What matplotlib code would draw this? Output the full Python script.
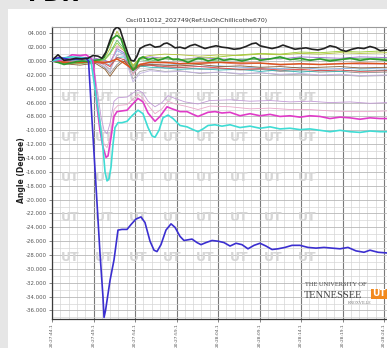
import matplotlib.pyplot as plt
from matplotlib.patches import Rectangle

W, H = 387, 348

# time axis in seconds after 20:27:44.1
x_ticks = [0, 5, 10, 15, 20, 25, 30, 35, 40]
x_tick_labels = ["20:27:44.1", "20:27:49.1", "20:27:54.1", "20:27:59.1", "20:28:04.1",
                 "20:28:09.1", "20:28:14.1", "20:28:19.1", "20:28:24.1"]
y_ticks = list(range(4, -37, -2))
y_tick_labels = [("%06.3f" % v) if v >= 0 else ("-%06.3f" % abs(v)) for v in y_ticks]

# blue unit (deepest swing)
blue_t = [0, 0.96, 2.17, 3.37, 4.10, 4.40, 4.82, 5.30, 5.78, 6.14, 6.27, 6.45, 7.0, 7.47, 7.95,
          8.43, 9.04, 9.52, 10.12, 10.72, 11.2, 11.81, 12.29, 12.65, 13.13, 13.73, 14.34, 14.82,
          15.42, 15.9, 16.39, 16.87, 17.47, 17.95, 18.55, 19.28, 20.0, 20.72, 21.45, 22.17, 22.89,
          23.61, 24.34, 25.06, 25.78, 26.51, 27.23, 28.07, 28.92, 29.88, 30.84, 31.81, 32.77,
          33.73, 34.7, 35.66, 36.63, 37.59, 38.31, 39.28, 40.36]
blue_v = [0.3, 0.5, 0.2, 0.3, 0.4, 0, -8.5, -18, -27.7, -34, -37, -36, -31.6, -28.7, -24.4,
          -24.3, -24.3, -23.6, -22.8, -22.5, -23.3, -26, -27.3, -27.5, -26.5, -24.4, -23.5, -24,
          -25.3, -25.9, -25.8, -25.7, -26.2, -26.5, -26.2, -25.9, -26.0, -26.2, -26.7, -26.3, -26.5,
          -27.1, -26.6, -26.3, -26.7, -27.2, -27.1, -26.9, -26.6, -26.6, -26.9, -27.0, -26.9,
          -27.0, -27.1, -26.9, -27.4, -27.6, -27.3, -27.6, -27.7]

magenta_t = [0, 0.96, 1.69, 2.41, 3.37, 4.10, 4.58, 4.94, 5.18, 5.42, 5.78, 6.14, 6.51, 6.75,
             7.11, 7.47, 7.83, 8.43, 9.04, 9.64, 10.36, 10.96, 11.57, 12.41, 13.01, 13.86, 14.46,
             15.42, 16.27, 16.99, 17.59, 18.19, 18.80, 19.64, 20.48, 21.45, 22.65, 23.86, 25.06,
             26.27, 27.47, 28.67, 29.88, 31.08, 32.29, 33.49, 34.70, 35.90, 37.11, 38.31, 39.52,
             40.36]
magenta_v = [0, 0.1, 0.4, 0.9, 0.8, 0.9, 0.5, 0, -3, -6.5, -10, -12.4, -13.9, -13.7, -11, -8,
             -7.3, -7.2, -7.1, -6.3, -5.4, -5.9, -7.5, -8.7, -8.0, -6.6, -6.9, -7.3, -7.3, -7.7,
             -8.0, -7.7, -7.4, -7.3, -7.5, -7.4, -7.9, -7.6, -7.9, -7.7, -8.0, -7.9, -8.1, -7.9,
             -8.0, -8.3, -8.1, -8.2, -8.4, -8.2, -8.3, -8.3]

cyan_t = [0, 0.96, 1.69, 2.41, 3.37, 4.10, 4.46, 4.70, 5.06, 5.42, 5.78, 6.14, 6.39, 6.63, 6.87,
          7.11, 7.35, 7.59, 7.95, 8.43, 9.04, 9.64, 10.36, 10.96, 11.57, 12.05, 12.41, 12.89,
          13.37, 13.98, 14.58, 15.42, 16.27, 16.99, 17.59, 18.19, 18.80, 19.64, 20.48, 21.45,
          22.65, 23.86, 25.06, 26.27, 27.47, 28.67, 29.88, 31.08, 32.29, 33.49, 34.70, 35.90,
          37.11, 38.31, 39.52, 40.36]
cyan_v = [0, 0.3, 0.5, 0.6, 0.5, 0.4, 0.3, 0, -3, -6, -8.8, -12.5, -16, -17.3, -17, -15.3, -12,
          -9.6, -8.9, -8.9, -8.7, -7.9, -7.1, -7.6, -9.6, -10.8, -11, -10, -8.2, -7.8, -8.3, -9.3,
          -9.5, -9.9, -10.2, -9.8, -9.3, -9.2, -9.4, -9.2, -9.6, -9.4, -9.7, -9.5, -9.8, -9.7,
          -9.9, -9.8, -10.0, -10.2, -10.0, -10.2, -10.3, -10.1, -10.2, -10.2]

# thin traces riding above the magenta one
upper_t = [0, 3.37, 4.94, 5.42, 5.9, 6.27, 6.63, 6.99, 7.47, 7.95, 9.04, 9.64, 10.36, 10.96,
           11.57, 12.41, 13.25, 13.98, 14.82, 16.02, 17.59, 19.04, 21.45, 23.86, 26.27, 28.67,
           31.08, 33.49, 35.9, 38.31, 40.36]
lavender_v = [0, 0.5, 0, -4, -8, -10, -10.5, -9, -5.8, -5.3, -5.2, -4.7, -4.2, -4.6, -5.8, -6.6,
              -6.0, -5.0, -5.4, -5.9, -6.2, -5.7, -5.6, -5.8, -5.7, -5.9, -5.8, -6.0, -5.9, -6.1,
              -6.0]
pink_v = [0, 0.6, 0, -5, -9.5, -12, -12.5, -11, -7, -6.4, -6.3, -5.6, -4.8, -5.4, -6.4, -7.6,
          -6.9, -5.8, -6.2, -6.5, -7.0, -6.5, -6.6, -6.9, -6.8, -7.0, -7.0, -7.2, -7.3, -7.3, -7.2]

black_t = [0, 0.36, 0.72, 1.08, 1.45, 2.17, 2.89, 3.61, 4.34, 4.94, 5.54, 6.02, 6.51, 6.99,
           7.47, 7.83, 8.19, 8.67, 9.16, 9.52, 9.88, 10.24, 10.6, 11.2, 11.81, 12.41, 13.01,
           13.49, 13.86, 14.34, 14.82, 15.42, 16.02, 16.63, 17.23, 17.83, 18.43, 19.04, 19.76,
           20.48, 21.2, 21.93, 22.65, 23.37, 24.1, 24.58, 25.06, 25.78, 26.51, 27.23, 27.83,
           28.55, 29.28, 29.88, 30.6, 31.33, 32.05, 32.77, 33.49, 34.22, 34.82, 35.42, 36.14,
           36.87, 37.59, 38.31, 38.92, 39.52, 40.36]
black_v = [0.1, 0.5, 0.9, 0.5, 0.1, 0.2, 0.4, 0.3, 0.4, 0.8, 0.7, 0.4, 1.3, 3.0, 4.5, 4.9, 4.6,
           2.8, 1.0, 0.1, 0.0, 0.7, 1.8, 2.2, 2.4, 2.0, 2.1, 2.5, 2.6, 2.3, 1.9, 2.0, 1.8, 2.2,
           2.4, 2.1, 1.8, 2.0, 2.2, 2.0, 1.9, 1.7, 1.8, 2.1, 2.5, 2.6, 2.2, 2.0, 1.8, 2.0, 2.3,
           2.0, 1.7, 1.8, 1.9, 1.7, 1.6, 1.8, 2.2, 2.0, 1.6, 1.4, 1.7, 1.9, 1.8, 2.1, 1.9, 1.5, 1.6]

green_t = [0, 0.72, 1.45, 2.17, 2.89, 3.61, 4.34, 5.06, 5.78, 6.27, 6.75, 7.23, 7.83, 8.31, 8.8,
           9.28, 9.76, 10.12, 10.48, 10.96, 11.57, 12.17, 12.77, 13.37, 13.98, 14.58, 15.18,
           15.78, 16.39, 16.99, 17.59, 18.19, 18.8, 19.4, 20.0, 20.72, 21.45, 22.17, 22.89, 23.61,
           24.34, 25.06, 26.27, 27.47, 28.67, 29.88, 31.08, 32.29, 33.49, 34.7, 35.9, 37.11,
           38.31, 39.52, 40.36]
green_v = [0, -0.2, -0.5, -0.3, -0.1, 0, -0.1, 0.1, 0.2, 0.5, 2.0, 3.2, 3.7, 3.2, 1.5, -0.3,
           -1.3, -0.9, 0.3, 0.6, 0.2, 0.4, 0.1, 0.3, 0.6, 0.2, 0.3, 0.1, -0.2, 0.1, 0.4, 0.3, 0.0,
           0.2, 0.4, 0.1, 0.3, 0.2, 0.0, 0.2, 0.5, 0.1, 0.3, 0.6, 0.2, 0.4, 0.1, 0.3, 0.0, 0.2,
           0.4, 0.1, 0.3, 0.2, 0.1]

# the bundle of units that stay near zero
band_t = [0, 1.57, 3.37, 5.18, 6.39, 6.99, 7.83, 8.67, 9.76, 10.6, 11.8, 13.6, 15.4, 17.8, 20.2,
          22.7, 25.1, 27.5, 29.9, 32.3, 34.7, 37.1, 40.4]
orange_v = [0, -0.2, -0.2, -0.1, -0.2, -0.1, 0.3, -0.3, -1.2, -0.5, -0.2, -0.2, -0.4, -0.3,
            -0.2, -0.3, -0.3, -0.5, -0.4, -0.5, -0.4, -0.3, -0.4]
band = {
    "#8c8c8c": [0, -0.2, 0.1, 0, -1.0, -1.8, -0.5, 0.3, -1.8, -0.8, -0.6, -1.0, -0.9, -1.2, -1.1,
                -1.3, -1.2, -1.5, -1.4, -1.6, -1.5, -1.7, -1.6],
    "#a8a8a8": [0, 0.2, -0.1, 0.1, -0.6, -1.2, 0.8, 1.2, -2.6, -1.5, -1.2, -1.5, -1.4, -1.8, -1.6,
                -1.9, -1.7, -2.0, -1.9, -2.1, -2.0, -2.2, -2.1],
    "#7fb2e5": [0, 0.1, 0.3, 0.2, 0.0, -0.3, 1.5, 1.0, -1.5, -0.6, -0.4, -0.6, -0.5, -0.8, -0.7,
                -0.9, -1.0, -1.1, -0.9, -1.2, -1.1, -1.0, -1.2],
    "#30b8b8": [0, 0.2, 0.1, 0.0, -0.3, -0.6, 0.5, 0.6, -1.2, -0.7, -0.9, -1.0, -1.2, -1.1, -1.3,
                -1.2, -1.5, -1.3, -1.6, -1.4, -1.5, -1.3, -1.4],
    "#9a6ad0": [0, 0.3, 0.6, 0.4, 0.1, -0.2, 1.8, 1.2, -0.8, 0.3, 0.6, 0.4, 0.2, 0.5, 0.3, 0.2,
                0.4, 0.3, 0.6, 0.5, 0.4, 0.6, 0.5],
    "#e8a0b8": [0, 0.1, 0.2, 0.1, -0.2, -0.8, 2.2, 1.5, -2.0, -0.4, -0.2, -0.3, -0.1, -0.4, -0.2,
                -0.5, -0.3, -0.6, -0.4, -0.5, -0.3, -0.5, -0.4],
    "#c0b0e0": [0, -0.1, 0.0, -0.2, -0.8, -1.5, 1.0, 0.8, -3.0, -1.8, -1.4, -1.6, -1.5, -1.7, -1.6,
                -1.8, -1.7, -1.9, -1.8, -2.0, -1.9, -2.1, -2.0],
    "#9acd32": [0, -0.3, -0.2, -0.1, 0.2, 1.0, 2.6, 1.5, -0.6, 0.4, 0.3, 0.5, 0.2, 0.4, 0.6, 0.9,
                1.1, 1.0, 1.3, 1.2, 1.4, 1.3, 1.5],
    "#8b5a2b": [0, -0.4, -0.6, -0.3, -1.2, -2.2, -0.8, 0.0, -1.4, -0.7, -0.5, -0.6, -0.7, -0.5,
                -0.8, -0.7, -0.9, -0.8, -1.0, -0.9, -0.8, -1.0, -0.9],
    "#e04040": [0, -0.1, -0.3, -0.2, -0.4, -0.8, 0.5, 0.2, -1.0, -0.5, -0.6, -0.8, -0.9, -0.8,
                -1.0, -1.2, -1.1, -1.3, -1.2, -1.4, -1.3, -1.5, -1.4],
    "#60c060": [0, -0.3, -0.4, -0.1, 0.3, 1.2, 3.0, 1.8, -1.0, 0.2, 0.0, 0.3, 0.1, 0.2, 0.0, 0.3,
                0.2, 0.4, 0.1, 0.3, 0.2, 0.4, 0.3],
    "#b0c030": [0, -0.2, -0.3, 0.0, 0.5, 1.8, 4.3, 2.5, -0.8, 0.5, 0.8, 1.0, 0.9, 0.7, 0.9, 0.8,
                1.0, 0.9, 1.1, 1.0, 1.2, 1.1, 1.2],
}

fig = plt.figure(figsize=(W / 100, H / 100), dpi=100, facecolor="#e6e6e6")
# white slide panel behind everything
fig.patches.append(Rectangle((8 / W, 0), 1, 1 - 9 / H, transform=fig.transFigure,
                             facecolor="white", edgecolor="none", zorder=-10))
fig.text(28 / W, 1 + 5 / H, "FDR", fontsize=16, fontweight="bold", color="black", va="center")

ax = fig.add_axes([52 / W, 1 - 319 / H, 343 / W, 292 / H])
ax.set_zorder(1)
ax.set_facecolor("white")
ax.set_xlim(0, 343 / 8.3)
ax.set_ylim(-37.23, 4.91)

ax.set_xticks(x_ticks)
ax.set_xticklabels(x_tick_labels, rotation=90, fontsize=3.2, color="#333333")
ax.set_xticks([i for i in range(0, 42)], minor=True)
ax.set_yticks(y_ticks)
ax.set_yticklabels(y_tick_labels, fontsize=3.9, color="#333333")
ax.set_yticks(list(range(-37, 5)), minor=True)
ax.tick_params(which="both", length=2, width=0.5, pad=1.5, colors="#555555")
ax.tick_params(axis="x", pad=1.0)
ax.tick_params(which="minor", length=0)
ax.grid(which="major", axis="x", color="#7a7a7a", lw=0.8)
ax.grid(which="major", axis="y", color="#b8b8b8", lw=0.6)
ax.grid(which="minor", color="#d6d6d6", lw=0.5)
ax.set_axisbelow(True)
for side in ["left", "bottom"]:
    ax.spines[side].set_color("#3a3a3a")
    ax.spines[side].set_linewidth(0.9)
ax.spines["top"].set_color("#9a9a9a")
ax.spines["right"].set_visible(False)

# faint logo watermark across the panel
for r in range(5):
    for c in range(8):
        ax.text(0.052 + c * 0.099, 0.76 - r * 0.137, "UT", transform=ax.transAxes,
                fontsize=9, fontweight="bold", color="#d6d6d6", ha="center", va="center",
                zorder=1)

for color, vals in band.items():
    ax.plot(band_t, vals, color=color, lw=0.6, zorder=2)
ax.plot(upper_t, lavender_v, color="#c29ad6", lw=0.6, zorder=2)
ax.plot(upper_t, pink_v, color="#e8a6c8", lw=0.6, zorder=2)
ax.plot(band_t, orange_v, color="#d9541e", lw=1.1, zorder=3)
ax.plot(green_t, green_v, color="#2e9a2e", lw=1.2, zorder=3)
ax.plot(magenta_t, magenta_v, color="#e03cc8", lw=1.2, zorder=4)
ax.plot(cyan_t, cyan_v, color="#3fdcd4", lw=1.2, zorder=4)
ax.plot(blue_t, blue_v, color="#3b2fd0", lw=1.2, zorder=5)
ax.plot(black_t, black_v, color="#222222", lw=1.2, zorder=5)

fig.text(197 / W, 1 - 20 / H, "Osci011012_202749(Ref:UsOhChillicothe670)",
         fontsize=4.5, color="#333333", ha="center", va="center")
fig.text(21 / W, 1 - 170 / H, "Angle (Degree)", rotation=90, fontsize=5.5,
         fontweight="bold", color="#222222", ha="center", va="center")
fig.text(198 / W, 1 - 350.5 / H, "Time (Hr:Min:Sec)", fontsize=5,
         fontweight="bold", color="#222222", ha="left", va="center")

# university mark, lower right
fig.text(305 / W, 1 - 285 / H, "THE UNIVERSITY OF", family="Liberation Serif",
         fontsize=4.6, color="#444444", ha="left", va="center", zorder=6)
fig.text(304 / W, 1 - 295 / H, "TENNESSEE", family="Liberation Serif",
         fontsize=7.5, color="#444444", ha="left", va="center", zorder=6)
fig.text(372 / W, 1 - 294 / H, "UT", fontsize=6.5, fontweight="bold",
         color="white", ha="left", va="center", zorder=6,
         bbox=dict(boxstyle="square,pad=0.1", facecolor="#f28a1e", edgecolor="none"))
fig.text(360 / W, 1 - 303 / H, "KNOXVILLE", family="Liberation Serif",
         fontsize=3, color="#777777", ha="center", va="center", zorder=6)

fig.savefig("out.png", dpi=100, facecolor=fig.get_facecolor())
